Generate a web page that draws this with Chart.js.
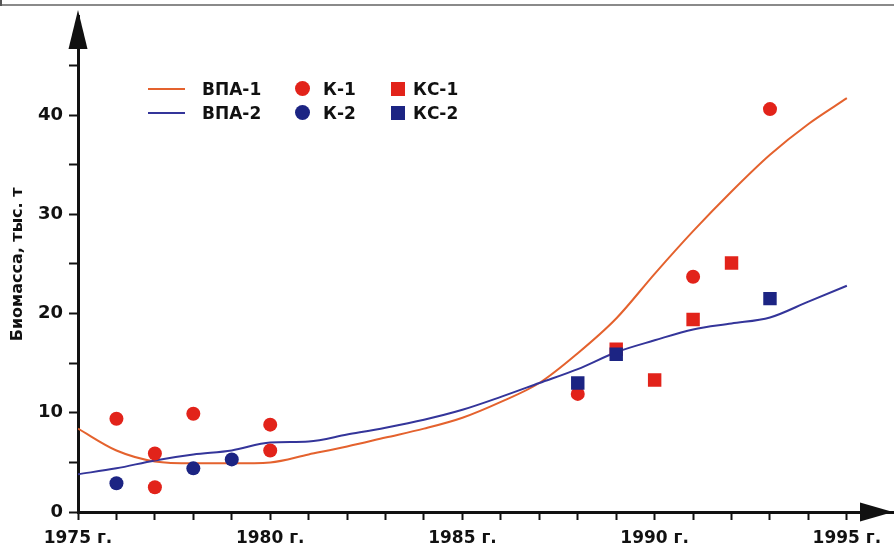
<!DOCTYPE html>
<html lang="ru">
<head>
    <meta charset="UTF-8">
    <title>Биомасса, тыс. т</title>
    <script src="https://cdn.jsdelivr.net/npm/chart.js"></script>
    <style>
        body {
            margin: 0;
            background: #fff;
            font-family: "DejaVu Sans", sans-serif;
        }
        #wrap {
            position: relative;
            width: 894px;
            height: 549px;
        }
        #topRule {
            position: absolute;
            left: 0;
            top: 4px;
            width: 894px;
            height: 2px;
            background: #8a8a8a;
        }
        #leftRule {
            position: absolute;
            left: 0;
            top: 0;
            width: 2px;
            height: 6px;
            background: #555;
        }
        .legend-item {
            position: absolute;
            height: 20px;
            line-height: 20px;
            font-weight: bold;
            font-size: 17px;
            color: #111;
            white-space: nowrap;
        }
        .legend-item .sym {
            position: absolute;
        }
        .legend-item .txt {
            position: absolute;
        }
    </style>
</head>
<body>
<div id="wrap">
    <canvas id="bioChart"></canvas>
    <div id="topRule"></div>
    <div id="leftRule"></div>
</div>

<script>
    // модельные кривые (по годам)
    const years = [1975, 1976, 1977, 1978, 1979, 1980, 1981, 1982, 1983, 1984, 1985,
                   1986, 1987, 1988, 1989, 1990, 1991, 1992, 1993, 1994, 1995];
    const vpa1 = [8.4, 6.2, 5.1, 4.9, 4.9, 5.0, 5.8, 6.6, 7.5, 8.4, 9.5,
                  11.1, 13.0, 16.0, 19.5, 24.0, 28.3, 32.3, 36.0, 39.1, 41.7];
    const vpa2 = [3.8, 4.4, 5.2, 5.8, 6.2, 7.0, 7.1, 7.8, 8.5, 9.3, 10.3,
                  11.6, 13.0, 14.4, 16.1, 17.3, 18.4, 19.0, 19.6, 21.2, 22.8];

    // съёмки
    const k1Years = [1976, 1977, 1977, 1978, 1980, 1980, 1988, 1991, 1993];
    const k1Values = [9.4, 5.9, 2.5, 9.9, 8.8, 6.2, 11.9, 23.7, 40.6];
    const k2Years = [1976, 1978, 1979];
    const k2Values = [2.9, 4.4, 5.3];
    const kc1Years = [1989, 1990, 1991, 1992];
    const kc1Values = [16.4, 13.3, 19.4, 25.1];
    const kc2Years = [1988, 1989, 1993];
    const kc2Values = [13.0, 15.9, 21.5];

    const yTitle = 'Биомасса, тыс. т';
    const yearSuffix = ' г.';

    const RED_LINE = '#e4622e';
    const BLUE_LINE = '#34359a';
    const RED = '#e2231a';
    const BLUE = '#1c2483';
    const INK = '#111';
    const FONT = '"DejaVu Sans", sans-serif';

    function pairs(xs, ys) {
        return xs.map((x, i) => ({ x: x, y: ys[i] }));
    }

    // стрелки на концах осей
    const axisArrows = {
        id: 'axisArrows',
        afterDraw(chart) {
            const { ctx, chartArea } = chart;
            const left = chartArea.left;
            const bottom = chartArea.bottom;
            ctx.save();
            ctx.fillStyle = INK;
            ctx.beginPath();
            ctx.moveTo(left, 10);
            ctx.lineTo(left - 9.5, 49);
            ctx.lineTo(left + 9.5, 49);
            ctx.closePath();
            ctx.fill();
            ctx.beginPath();
            ctx.moveTo(893, bottom);
            ctx.lineTo(860, bottom - 9.5);
            ctx.lineTo(860, bottom + 9.5);
            ctx.closePath();
            ctx.fill();
            ctx.restore();
        }
    };

    const ctx = document.getElementById('bioChart').getContext('2d');
    const bioChart = new Chart(ctx, {
        data: {
            datasets: [
                {
                    type: 'line',
                    label: 'ВПА-1',
                    data: pairs(years, vpa1),
                    borderColor: RED_LINE,
                    borderWidth: 2,
                    pointRadius: 0,
                    cubicInterpolationMode: 'monotone',
                    order: 10
                },
                {
                    type: 'line',
                    label: 'ВПА-2',
                    data: pairs(years, vpa2),
                    borderColor: BLUE_LINE,
                    borderWidth: 2,
                    pointRadius: 0,
                    cubicInterpolationMode: 'monotone',
                    order: 9
                },
                {
                    type: 'scatter',
                    label: 'К-1',
                    data: pairs(k1Years, k1Values),
                    pointStyle: 'circle',
                    pointRadius: 7,
                    backgroundColor: RED,
                    borderWidth: 0,
                    order: 5
                },
                {
                    type: 'scatter',
                    label: 'К-2',
                    data: pairs(k2Years, k2Values),
                    pointStyle: 'circle',
                    pointRadius: 7,
                    backgroundColor: BLUE,
                    borderWidth: 0,
                    order: 3
                },
                {
                    type: 'scatter',
                    label: 'КС-1',
                    data: pairs(kc1Years, kc1Values),
                    pointStyle: 'rect',
                    pointRadius: 9.5,
                    backgroundColor: RED,
                    borderWidth: 0,
                    order: 4
                },
                {
                    type: 'scatter',
                    label: 'КС-2',
                    data: pairs(kc2Years, kc2Values),
                    pointStyle: 'rect',
                    pointRadius: 9.5,
                    backgroundColor: BLUE,
                    borderWidth: 0,
                    order: 1
                }
            ]
        },
        options: {
            responsive: true,
            maintainAspectRatio: false,
            animation: false,
            layout: {
                autoPadding: false,
                padding: { top: 14, right: 1, left: 0, bottom: 0 }
            },
            plugins: {
                legend: { display: false },
                tooltip: { enabled: false }
            },
            scales: {
                x: {
                    type: 'linear',
                    min: 1975,
                    max: 1996.2,
                    afterFit: s => { s.height = 37; },
                    border: { color: INK, width: 3 },
                    grid: {
                        drawOnChartArea: false,
                        tickLength: 8,
                        tickColor: c => (c.tick && c.tick.value > 1995 ? 'rgba(0,0,0,0)' : INK),
                        tickWidth: 2
                    },
                    ticks: {
                        stepSize: 1,
                        includeBounds: false,
                        autoSkip: false,
                        maxRotation: 0,
                        padding: 8,
                        color: INK,
                        font: { family: FONT, size: 17, weight: 'bold' },
                        callback: v => (v % 5 === 0 ? v + yearSuffix : '')
                    }
                },
                y: {
                    min: 0,
                    max: 49.9,
                    afterFit: s => { s.width = 78; },
                    border: { color: INK, width: 3 },
                    grid: {
                        drawOnChartArea: false,
                        tickLength: 9,
                        tickColor: INK,
                        tickWidth: 2
                    },
                    ticks: {
                        stepSize: 5,
                        includeBounds: false,
                        padding: 6,
                        color: INK,
                        font: { family: FONT, size: 18, weight: 'bold' },
                        callback: v => (v % 10 === 0 ? v : '')
                    },
                    title: {
                        display: true,
                        text: yTitle,
                        color: INK,
                        padding: { top: 8, bottom: 0 },
                        font: { family: FONT, size: 16, weight: 'bold' }
                    }
                }
            }
        },
        plugins: [axisArrows]
    });

    // легенда: три колонки по две строки
    const legendSlots = [
        { x: 148, y: 79 }, { x: 148, y: 103 },
        { x: 295, y: 79 }, { x: 295, y: 103 },
        { x: 391, y: 79 }, { x: 391, y: 103 }
    ];
    const textOffsets = [54, 54, 28, 28, 22, 22];
    const wrap = document.getElementById('wrap');
    bioChart.data.datasets.forEach((ds, i) => {
        const slot = legendSlots[i];
        const item = document.createElement('div');
        item.className = 'legend-item';
        item.style.left = slot.x + 'px';
        item.style.top = slot.y + 'px';
        const sym = document.createElement('span');
        sym.className = 'sym';
        if (ds.type === 'line') {
            sym.style.left = '0px';
            sym.style.top = '9px';
            sym.style.width = '37px';
            sym.style.height = '2px';
            sym.style.background = ds.borderColor;
        } else if (ds.pointStyle === 'circle') {
            sym.style.left = '0px';
            sym.style.top = '2px';
            sym.style.width = '15px';
            sym.style.height = '15px';
            sym.style.borderRadius = '50%';
            sym.style.background = ds.backgroundColor;
        } else {
            sym.style.left = '0px';
            sym.style.top = '3px';
            sym.style.width = '14px';
            sym.style.height = '14px';
            sym.style.background = ds.backgroundColor;
        }
        const txt = document.createElement('span');
        txt.className = 'txt';
        txt.style.left = textOffsets[i] + 'px';
        txt.style.top = '0px';
        txt.textContent = ds.label;
        item.appendChild(sym);
        item.appendChild(txt);
        wrap.appendChild(item);
    });
</script>
</body>
</html>
